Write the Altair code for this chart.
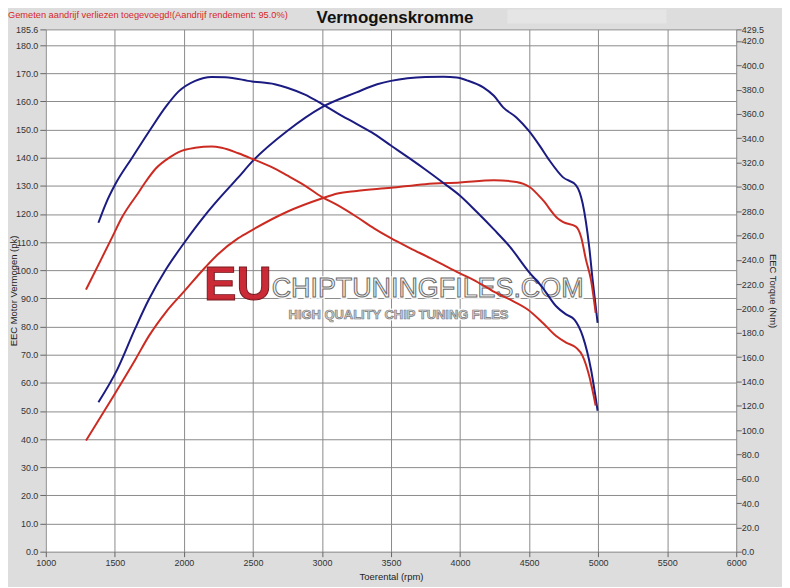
import altair as alt
import pandas as pd

# ---- data ----
RPM_PWR_TUNED = [1381, 1518, 1650, 1746, 1866, 2000, 2154, 2245, 2394, 2494, 2748, 2998, 3250, 3400, 3499,
                 3750, 3880, 3976, 4050, 4168, 4245, 4312, 4408, 4497, 4576, 4648, 4744, 4840, 4888, 4935,
                 4960, 4996]
PWR_TUNED = [53.1, 64.8, 79.6, 89.6, 100.0, 109.6, 119.6, 124.9, 133.0, 138.6, 149.5, 157.9, 163.2, 166.1, 167.3,
             168.7, 168.8, 168.5, 167.5, 165.0, 162.0, 157.9, 154.3, 149.6, 144.3, 139.0, 133.1, 130.2, 123.7, 108.4,
             96.6, 81.3]

RPM_PWR_STOCK = [1291, 1410, 1506, 1650, 1746, 1866, 2000, 2154, 2245, 2394, 2494, 2748, 2998, 3113, 3250,
                 3499, 3748, 4000, 4245, 4408, 4504, 4600, 4708, 4744, 4840, 4876, 4912, 4948, 4982]
PWR_STOCK = [39.5, 48.9, 56.6, 68.4, 76.6, 84.9, 92.4, 101.0, 105.6, 111.4, 114.3, 120.8, 125.5, 127.3, 128.2,
             129.3, 130.6, 131.2, 132.0, 131.4, 129.6, 124.9, 118.4, 117.2, 115.5, 111.9, 103.7, 96.6, 84.9]

RPM_TQ_TUNED = [1381, 1435, 1506, 1625, 1750, 1875, 1962, 2082, 2201, 2300, 2494, 2658, 2748, 2873, 2998,
                3113, 3250, 3377, 3499, 3640, 3748, 3880, 4000, 4120, 4245, 4360, 4492, 4600, 4696, 4768,
                4828, 4888, 4948, 4996]
TQ_TUNED = [270.5, 286.3, 302.7, 324.0, 346.0, 366.8, 378.5, 387.2, 390.4, 390.2, 386.7, 384.4, 381.5, 376.0, 368.3,
            360.5, 351.8, 343.6, 334.0, 323.0, 314.3, 303.2, 292.7, 279.5, 265.0, 250.9, 231.0, 216.8, 201.8, 195.1,
            190.9, 177.3, 150.0, 115.9]

RPM_TQ_STOCK = [1291, 1399, 1471, 1554, 1674, 1722, 1800, 1900, 1962, 2082, 2201, 2273, 2394, 2494, 2633,
                2748, 2873, 2998, 3113, 3250, 3377, 3499, 3640, 3784, 3880, 3996, 4097, 4240, 4360, 4492,
                4600, 4696, 4768, 4840, 4888, 4935, 4982]
TQ_STOCK = [215.5, 240.0, 256.4, 275.4, 295.8, 304.0, 315.5, 324.5, 328.6, 332.1, 333.2, 332.1, 327.6, 323.1, 316.4,
            309.4, 301.3, 291.8, 284.9, 275.4, 265.9, 257.8, 249.5, 241.4, 235.8, 229.1, 223.6, 214.1, 207.4, 199.0,
            188.1, 177.3, 171.9, 167.8, 160.8, 144.6, 120.1]

X_TICKS = list(range(1000, 6001, 250))
PWR_TICKS = [float(v) for v in range(0, 181, 10)] + [185.6]
TQ_TICKS = [float(v) for v in range(0, 421, 20)] + [429.5]

TITLE = "Vermogenskromme"
NOTE = "Gemeten aandrijf verliezen toegevoegd!(Aandrijf rendement: 95.0%)"
X_TITLE = "Toerental (rpm)"
Y1_TITLE = "EEC Motor Vermogen (pk)"
Y2_TITLE = "EEC Torque (Nm)"

BLUE = "#1b1b82"
RED = "#cc2b22"
FONT = "Liberation Sans"
W, H = 694, 525

power_df = pd.concat([
    pd.DataFrame({"rpm": RPM_PWR_TUNED, "pk": PWR_TUNED, "series": "tuned"}),
    pd.DataFrame({"rpm": RPM_PWR_STOCK, "pk": PWR_STOCK, "series": "stock"}),
])
torque_df = pd.concat([
    pd.DataFrame({"rpm": RPM_TQ_TUNED, "nm": TQ_TUNED, "series": "tuned"}),
    pd.DataFrame({"rpm": RPM_TQ_STOCK, "nm": TQ_STOCK, "series": "stock"}),
])

color = alt.Color("series:N", scale=alt.Scale(domain=["tuned", "stock"], range=[BLUE, RED]), legend=None)

x_enc = alt.X("rpm:Q",
              scale=alt.Scale(domain=[1000, 6000], nice=False, zero=False),
              axis=alt.Axis(values=X_TICKS, format="d", title=X_TITLE, grid=True,
                            labelFlush=False, tickSize=5, labelPadding=2,
                            titleY=20, titleBaseline="top"))

power = alt.Chart(power_df).mark_line(strokeWidth=2, interpolate="monotone").encode(
    x=x_enc,
    y=alt.Y("pk:Q", scale=alt.Scale(domain=[0, 185.6], nice=False, zero=True),
            axis=alt.Axis(orient="left", values=PWR_TICKS, format=".1f", title=Y1_TITLE, grid=True,
                          tickSize=6, labelPadding=2, labelFlush=False,
                          titleX=-32, titleY=H / 2, titleAngle=-90, titleBaseline="middle", titleAlign="center")),
    color=color,
    detail="series:N",
)

torque = alt.Chart(torque_df).mark_line(strokeWidth=2, interpolate="monotone").encode(
    x=alt.X("rpm:Q", scale=alt.Scale(domain=[1000, 6000], nice=False, zero=False)),
    y=alt.Y("nm:Q", scale=alt.Scale(domain=[0, 429.5], nice=False, zero=True),
            axis=alt.Axis(orient="right", values=TQ_TICKS, format=".1f", title=Y2_TITLE, grid=False,
                          tickSize=5, labelPadding=0, labelFlush=False,
                          titleX=36, titleY=H / 2, titleAngle=90, titleBaseline="middle", titleAlign="center")),
    color=color,
    detail="series:N",
)


def txt(s, x, y, **kw):
    return alt.Chart(pd.DataFrame({"t": [s]})).mark_text(font=FONT, **kw).encode(
        x=alt.value(x), y=alt.value(y), text="t:N")


# faint lighter box at the top right of the header
header_box = alt.Chart(pd.DataFrame({"a": [0]})).mark_rect(color="#e5e5e5").encode(
    x=alt.value(464), x2=alt.value(624), y=alt.value(-20), y2=alt.value(-6))

wm_eu = txt("EU", 159, 272, fontSize=49, fontWeight="bold", align="left", baseline="alphabetic",
            fill="#c8202c", stroke="#6e0d14", strokeWidth=1, opacity=0.95)
wm_halo = txt("CHIPTUNINGFILES.COM", 227, 269, fontSize=27, align="left", baseline="alphabetic",
              fill="white", stroke="white", strokeWidth=4, opacity=0.85)
wm_main = txt("CHIPTUNINGFILES.COM", 227, 269, fontSize=27, align="left", baseline="alphabetic",
              fill="#f4f4f4", stroke="#6a6a6a", strokeWidth=1, opacity=0.99)
wm_sub_halo = txt("HIGH QUALITY CHIP TUNING FILES", 244, 291, fontSize=13, fontWeight="bold", align="left",
                  baseline="alphabetic", fill="white", stroke="white", strokeWidth=3.5, opacity=0.85)
wm_sub = txt("HIGH QUALITY CHIP TUNING FILES", 244, 291, fontSize=13, fontWeight="bold", align="left",
             baseline="alphabetic", fill="#d4d4d4", stroke="#777777", strokeWidth=0.7, opacity=0.99)

title_mark = txt(TITLE, 351, -6, fontSize=17, fontWeight="bold", align="center", baseline="alphabetic",
                 fill="#111111")
note_mark = txt(NOTE, -38, -11, fontSize=9.3, align="left", baseline="alphabetic", fill="#d8262a")

chart = alt.layer(
    header_box, wm_eu, wm_halo, wm_main, wm_sub_halo, wm_sub, power, torque, title_mark, note_mark
).resolve_scale(
    y="independent"
).properties(
    width=W, height=H,
    autosize=alt.AutoSizeParams(type="none"),
    padding={"left": 38, "top": 20, "right": 46, "bottom": 34},
    background="#dddddd",
).configure_view(
    fill="white", stroke=None
).configure_axis(
    labelFont=FONT, labelFontSize=9, labelColor="#333333",
    titleFont=FONT, titleFontSize=9.5, titleFontWeight="normal", titleColor="#222222",
    tickColor="#666666", domain=False, labelOverlap=False,
    gridColor="#8a8a8a", gridOpacity=1, gridWidth=1,
)

chart.save("out.html", embed_options={"renderer": "svg", "actions": False})
